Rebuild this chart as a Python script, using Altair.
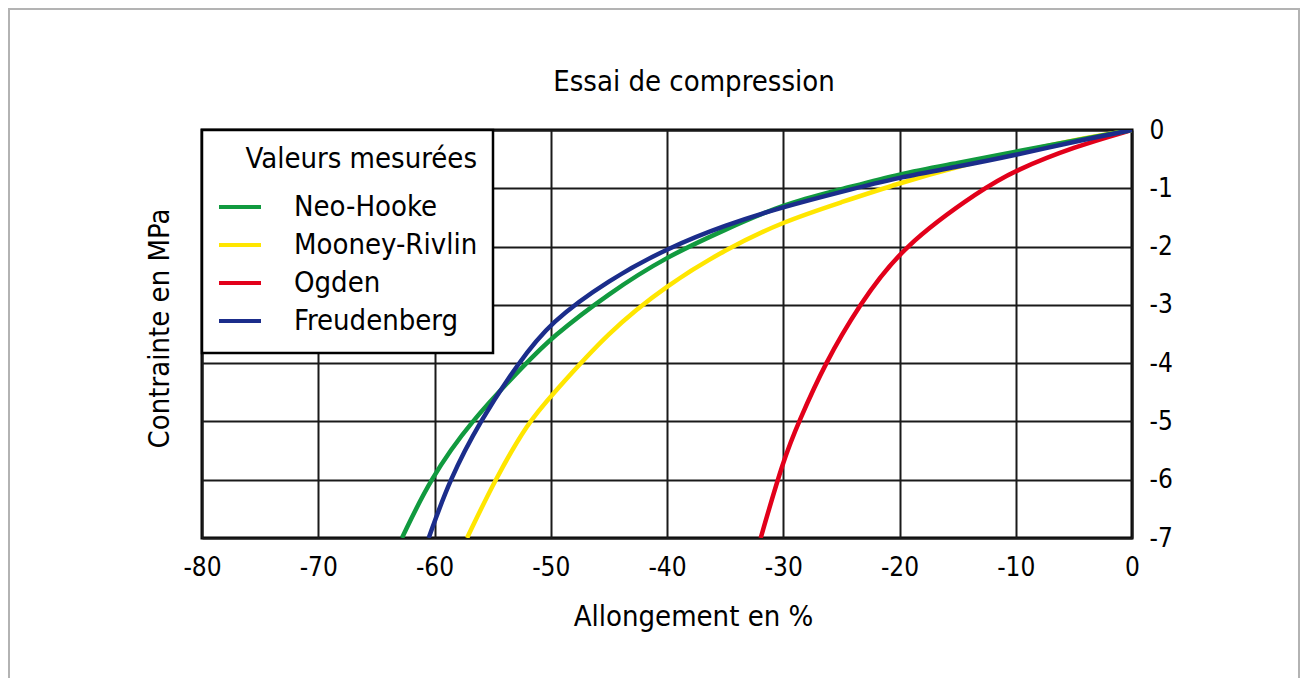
import altair as alt
import pandas as pd

# ---- data ----
series_names = ["Neo-Hooke", "Mooney-Rivlin", "Ogden", "Freudenberg"]
series_colors = ["#119a3f", "#ffe600", "#e2001a", "#1b2d8b"]

neo_x = [0, -5, -10, -15, -20, -25, -30, -35, -40, -45, -50, -52.1, -56.9, -60.4, -62.8]
neo_y = [0, -0.18, -0.37, -0.57, -0.75, -1.02, -1.27, -1.71, -2.17, -2.8, -3.57, -4.0, -5.0, -6.0, -7.0]

mooney_x = [0, -5, -10, -15, -20, -25, -30, -35, -40, -45, -50, -51.9, -54.8, -57.2]
mooney_y = [0, -0.17, -0.39, -0.63, -0.91, -1.24, -1.57, -2.05, -2.66, -3.45, -4.57, -5.0, -6.0, -7.0]

ogden_x = [0, -5, -10, -12.8, -19.8, -23.45, -26.4, -28.65, -30, -31.94]
ogden_y = [0, -0.29, -0.69, -1.0, -2.0, -3.0, -4.0, -5.0, -5.66, -7.0]

freud_x = [0, -5, -10, -15, -20, -25, -30, -35, -40, -45, -50, -52.8, -56.1, -58.7, -60.5]
freud_y = [0, -0.2, -0.43, -0.63, -0.81, -1.06, -1.32, -1.63, -2.03, -2.57, -3.29, -4.0, -5.0, -6.0, -7.0]

x_ticks = [-80, -70, -60, -50, -40, -30, -20, -10, 0]
y_ticks = [-7, -6, -5, -4, -3, -2, -1, 0]

# drawing order: Ogden at the back, Freudenberg on top
draw_order = [
    ("Ogden", ogden_x, ogden_y),
    ("Mooney-Rivlin", mooney_x, mooney_y),
    ("Neo-Hooke", neo_x, neo_y),
    ("Freudenberg", freud_x, freud_y),
]
rows = []
for name, xs, ys in draw_order:
    for xv, yv in zip(xs, ys):
        rows.append({"serie": name, "allongement": xv, "contrainte": yv})
df = pd.DataFrame(rows)

FONT = "Liberation Sans Narrow, DejaVu Sans Condensed, Liberation Sans, sans-serif"

x_scale = alt.Scale(domain=[-80, 0], nice=False, zero=False)
y_scale = alt.Scale(domain=[-7, 0], nice=False, zero=False)

x_axis = alt.Axis(values=x_ticks, title="Allongement en %", grid=True,
                  ticks=False, tickSize=0, domain=False, labelPadding=16,
                  titlePadding=22, titleX=491, labelFlush=False, labelFontSize=26,
                  titleFontSize=29, labelExpr="'' + datum.value")

lines = alt.Chart(df).mark_line(strokeWidth=4.5, interpolate="basis", clip=True).encode(
    x=alt.X("allongement:Q", scale=x_scale, axis=x_axis),
    y=alt.Y("contrainte:Q", scale=y_scale,
            axis=alt.Axis(orient="right", values=y_ticks, title=None, grid=True,
                          ticks=False, tickSize=0, domain=False, labelPadding=17,
                          labelFlush=False, labelAlign="left", labelBaseline="middle",
                          labelFontSize=26, labelExpr="'' + datum.value")),
    color=alt.Color("serie:N",
                    scale=alt.Scale(domain=series_names, range=series_colors),
                    legend=alt.Legend(title="Valeurs mesurées", orient="top-left",
                                      offset=0, padding=15, titleAnchor="end",
                                      titleFontSize=29, labelFontSize=29,
                                      titlePadding=16, symbolType="stroke",
                                      symbolSize=1764, symbolStrokeWidth=4,
                                      labelOffset=31, clipHeight=34, rowPadding=4,
                                      labelLimit=0, titleLimit=0,
                                      fillColor="white", strokeColor="black")),
)

left_axis = alt.Chart(df).mark_point(opacity=0).encode(
    x=alt.X("allongement:Q", scale=x_scale, axis=x_axis),
    y=alt.Y("contrainte:Q", scale=y_scale,
            axis=alt.Axis(orient="left", title="Contrainte en MPa", labels=False,
                          ticks=False, tickSize=0, domain=False, grid=False,
                          titlePadding=28, titleY=198, titleFontSize=29)),
)

frame = alt.Chart(alt.Data(values=[{}])).mark_rect(
    filled=False, stroke="#b3b3b3", strokeWidth=2, clip=False
).encode(
    x=alt.value(-193), x2=alt.value(1097), y=alt.value(-121), y2=alt.value(600)
)

chart = alt.layer(frame, lines, left_axis).resolve_axis(y="independent").properties(
    width=930,
    height=408,
    autosize=alt.AutoSizeParams(type="none"),
    padding={"left": 194, "top": 122, "right": 168, "bottom": 140},
    title=alt.TitleParams(text="Essai de compression", fontSize=29, font=FONT,
                          fontWeight="normal", color="black", anchor="middle",
                          frame="group", baseline="alphabetic", dx=27, offset=-112),
).configure(
    font=FONT, background="white"
).configure_view(
    stroke="black", strokeWidth=3
).configure_axis(
    labelFont=FONT, titleFont=FONT, labelColor="black", titleColor="black",
    titleFontWeight="normal", gridColor="#1a1a1a", gridWidth=2, gridOpacity=1
).configure_legend(
    labelFont=FONT, titleFont=FONT, labelColor="black", titleColor="black",
    titleFontWeight="normal", strokeWidth=2.5
)

chart.save("out.html", embed_options={"renderer": "svg", "actions": False})
